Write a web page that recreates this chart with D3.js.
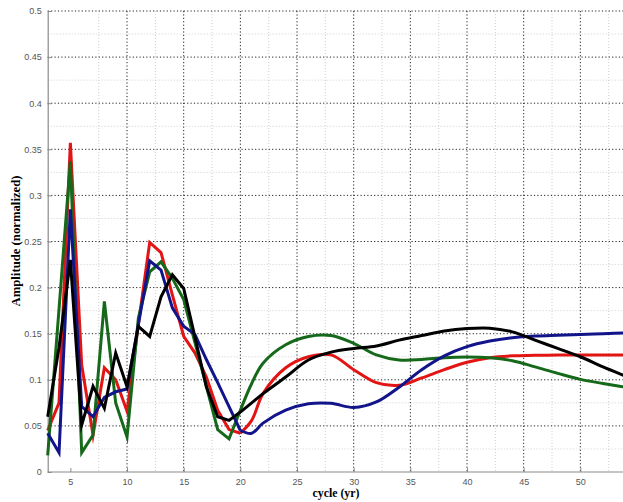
<!DOCTYPE html>
<html>
<head>
<meta charset="utf-8">
<script src="https://cdn.jsdelivr.net/npm/d3@7"></script>
<style>
  body { margin: 0; background: #fff; }
  svg { display: block; }
</style>
</head>
<body>
<script>
// cycle lengths (yr) sampled along the x axis
var cycles = [3, 4, 5, 6, 7, 8, 9, 10, 11, 12, 13, 14, 15, 16, 17, 18, 19, 20, 21,
  22, 24, 26, 28, 30, 32, 34, 36, 38, 40, 42, 44, 46, 48, 50, 52, 54, 56];

// normalized amplitudes, one array per series
var redValues = [0.045, 0.075, 0.357, 0.116, 0.040, 0.113, 0.100, 0.066, 0.160, 0.249, 0.238, 0.192, 0.147, 0.129, 0.103, 0.067, 0.046, 0.042, 0.056,
  0.085, 0.113, 0.125, 0.127, 0.111, 0.097, 0.094, 0.102, 0.111, 0.119, 0.124, 0.126, 0.1265, 0.127, 0.127, 0.127, 0.127, 0.127];
var blueValues = [0.042, 0.021, 0.285, 0.071, 0.060, 0.081, 0.087, 0.090, 0.160, 0.229, 0.219, 0.178, 0.158, 0.149, 0.122, 0.097, 0.071, 0.045, 0.042,
  0.053, 0.067, 0.074, 0.0745, 0.070, 0.076, 0.092, 0.111, 0.126, 0.136, 0.142, 0.1457, 0.1475, 0.1483, 0.149, 0.150, 0.151, 0.152];
var greenValues = [0.018, 0.177, 0.337, 0.021, 0.040, 0.185, 0.075, 0.038, 0.167, 0.217, 0.228, 0.210, 0.187, 0.140, 0.093, 0.046, 0.036, 0.067, 0.096,
  0.118, 0.138, 0.147, 0.148, 0.1396, 0.127, 0.1215, 0.122, 0.124, 0.1247, 0.124, 0.1207, 0.114, 0.107, 0.1005, 0.096, 0.092, 0.088];
var blackValues = [0.060, 0.135, 0.230, 0.051, 0.093, 0.069, 0.129, 0.0925, 0.158, 0.147, 0.190, 0.214, 0.199, 0.146, 0.0925, 0.060, 0.056, 0.065, 0.075,
  0.085, 0.103, 0.1215, 0.130, 0.134, 0.1367, 0.143, 0.148, 0.153, 0.1556, 0.156, 0.152, 0.143, 0.134, 0.125, 0.114, 0.104, 0.094];

// tick values
var xTicks = [5, 10, 15, 20, 25, 30, 35, 40, 45, 50];
var yTicks = [0, 0.05, 0.1, 0.15, 0.2, 0.25, 0.3, 0.35, 0.4, 0.45, 0.5];
var yTickLabels = ["0", "0.05", "0.1", "0.15", "0.2", "0.25", "0.3", "0.35", "0.4", "0.45", "0.5"];

var width = 623;
var height = 502;

var margin = { top: 11, left: 47.7, bottom: 30 };
var plotBottom = height - margin.bottom;

var svg = d3.select("body")
  .append("svg")
  .attr("width", width)
  .attr("height", height);

var xScale = d3.scaleLinear().domain([3, 55]).range([margin.left, margin.left + 52 * 11.333]);
var yScale = d3.scaleLinear().domain([0, 0.5]).range([plotBottom, margin.top]);

// minor grid (light)
var xMinor = d3.range(7.5, 56, 5);
var yMinor = d3.range(0.025, 0.5, 0.05);

svg.append("g").selectAll("line")
  .data(xMinor)
  .join("line")
  .attr("x1", d => xScale(d)).attr("x2", d => xScale(d))
  .attr("y1", margin.top).attr("y2", plotBottom)
  .attr("stroke", "#cfcfcf").attr("stroke-width", 1)
  .attr("stroke-dasharray", "1,2");

svg.append("g").selectAll("line")
  .data(yMinor)
  .join("line")
  .attr("x1", margin.left).attr("x2", width)
  .attr("y1", d => yScale(d)).attr("y2", d => yScale(d))
  .attr("stroke", "#cfcfcf").attr("stroke-width", 1)
  .attr("stroke-dasharray", "1,2");

// major grid (black dotted); the x=5 grid line is absent in the original
svg.append("g").selectAll("line")
  .data(xTicks.filter(d => d !== 5))
  .join("line")
  .attr("x1", d => xScale(d)).attr("x2", d => xScale(d))
  .attr("y1", margin.top).attr("y2", plotBottom)
  .attr("stroke", "#222").attr("stroke-width", 1)
  .attr("stroke-dasharray", "1.2,2.2");

svg.append("g").selectAll("line")
  .data(yTicks.filter(d => d > 0))
  .join("line")
  .attr("x1", margin.left).attr("x2", width)
  .attr("y1", d => yScale(d)).attr("y2", d => yScale(d))
  .attr("stroke", "#222").attr("stroke-width", 1)
  .attr("stroke-dasharray", "1.2,2.2");

// axes
var xAxis = d3.axisBottom(xScale).tickValues(xTicks).tickSizeInner(-4).tickSizeOuter(0).tickPadding(7);
var yAxis = d3.axisLeft(yScale).tickValues(yTicks).tickSizeInner(-4).tickSizeOuter(0).tickPadding(6)
  .tickFormat((d, i) => yTickLabels[i]);

var gx = svg.append("g")
  .attr("transform", `translate(0, ${plotBottom})`)
  .call(xAxis);
var gy = svg.append("g")
  .attr("transform", `translate(${margin.left}, 0)`)
  .call(yAxis);

[gx, gy].forEach(function(g) {
  g.select(".domain").attr("stroke", "#8a8a8a").attr("stroke-width", 1.2);
  g.selectAll(".tick line").attr("stroke", "#8a8a8a");
  g.selectAll(".tick text")
    .attr("fill", "#555")
    .style("font-family", "'Liberation Sans', Arial, sans-serif")
    .style("font-size", "9px");
});
gx.select(".domain").attr("d", `M${margin.left},0H${width}`);

// series lines: integer-sampled part drawn straight, long cycles smooth
var series = [
  { values: redValues, color: "#e31414" },
  { values: greenValues, color: "#16691a" },
  { values: blueValues, color: "#12148a" },
  { values: blackValues, color: "#000000" }
];

var sharpLine = d3.line().x(d => xScale(d[0])).y(d => yScale(d[1])).curve(d3.curveLinear);
var smoothLine = d3.line().x(d => xScale(d[0])).y(d => yScale(d[1])).curve(d3.curveCatmullRom.alpha(0.5));

var lines = svg.append("g");
series.forEach(function(s) {
  var pts = cycles.map((c, i) => [c, s.values[i]]);
  lines.append("path")
    .attr("d", sharpLine(pts.filter(p => p[0] <= 20)))
    .attr("fill", "none")
    .attr("stroke", s.color)
    .attr("stroke-width", 3)
    .attr("stroke-linejoin", "miter")
    .attr("stroke-miterlimit", 10);
  lines.append("path")
    .attr("d", smoothLine(pts.filter(p => p[0] >= 20)))
    .attr("fill", "none")
    .attr("stroke", s.color)
    .attr("stroke-width", 3)
    .attr("stroke-linejoin", "round");
});

// axis labels
svg.append("text")
  .attr("x", 336)
  .attr("y", 497)
  .attr("text-anchor", "middle")
  .attr("textLength", 47)
  .attr("lengthAdjust", "spacingAndGlyphs")
  .style("font-family", "'Liberation Serif', 'Times New Roman', serif")
  .style("font-weight", "bold")
  .style("font-size", "11.5px")
  .text("cycle (yr)");

svg.append("text")
  .attr("transform", "translate(19.5, 241) rotate(-90)")
  .attr("text-anchor", "middle")
  .attr("textLength", 131)
  .attr("lengthAdjust", "spacingAndGlyphs")
  .style("font-family", "'Liberation Serif', 'Times New Roman', serif")
  .style("font-weight", "bold")
  .style("font-size", "12.5px")
  .text("Amplitude (normalized)");
</script>
</body>
</html>
